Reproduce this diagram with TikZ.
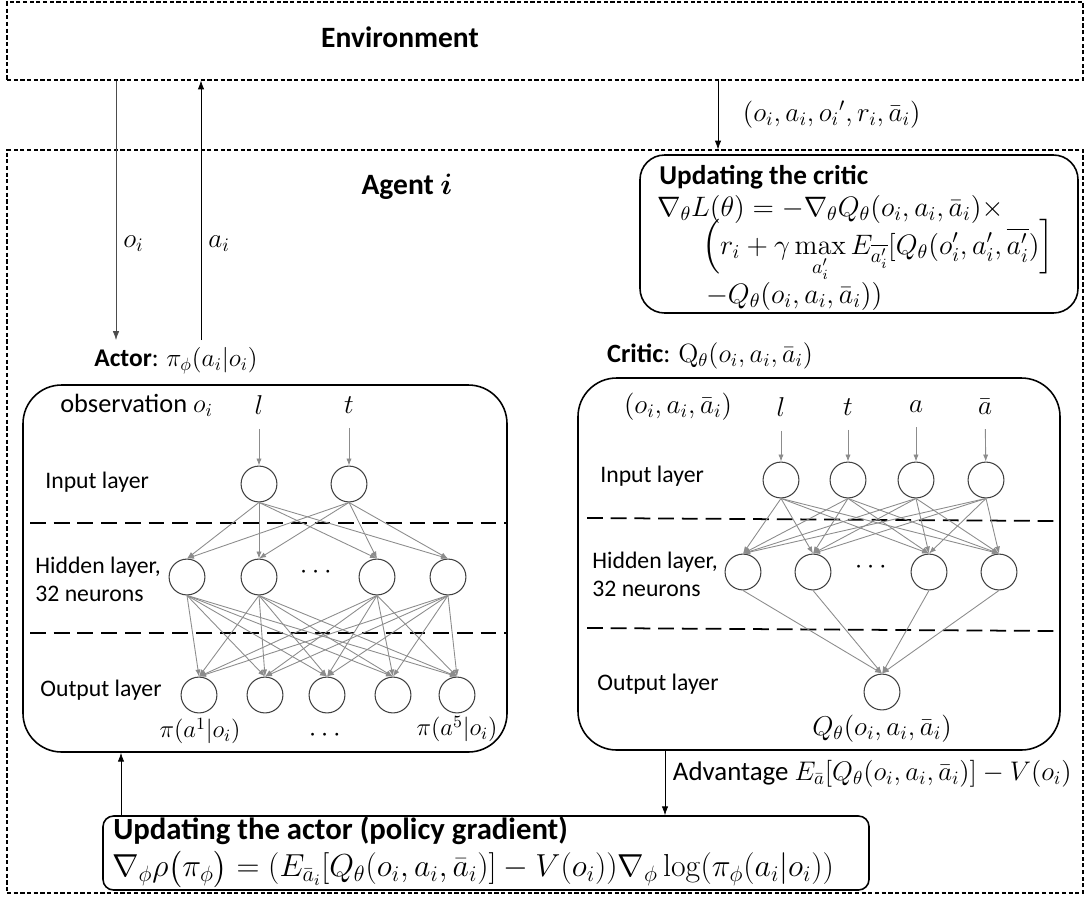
\RequirePackage{fix-cm}
\documentclass[tikz,border=0pt]{standalone}
\usepackage{amsmath}
\usepackage[no-math]{fontspec}
\setmainfont{Carlito}
\usetikzlibrary{arrows.meta,positioning,fit}

\begin{document}
\begin{tikzpicture}[
    x=0.02cm, y=-0.02cm,
    >={Latex[length=5pt,width=3.6pt]},
    frame/.style={draw, dash pattern=on 2.4pt off 1.4pt, line width=0.6pt, inner sep=0pt},
    panel/.style={draw, line width=0.9pt, rounded corners=22pt, inner sep=0pt},
    neuron/.style={draw=black!75, circle, line width=0.6pt, minimum size=20.4pt, inner sep=0pt},
    link/.style={-{Latex[length=4pt,width=3pt]}, draw=black!45, line width=0.5pt},
    divider/.style={dash pattern=on 9pt off 4.5pt, line width=1pt},
    lbl/.style={font=\fontsize{13.5}{16}\selectfont, anchor=west, align=left, inner sep=0pt},
    big/.style={font=\fontsize{16.8}{20}\selectfont\bfseries},
    mth/.style={font=\fontsize{15.5}{18}\selectfont, inner sep=1pt},
    eqn/.style={font=\fontsize{16}{19}\selectfont, inner sep=1pt, anchor=west},
]
\useasboundingbox (0,0) rectangle (1089,897);

% environment and agent frames
\coordinate (envnw) at (7,2);
\coordinate (envse) at (1083,80);
\node[frame, fit=(envnw)(envse)] (env) {};
\node[big] (envtxt) at (400,37) {Environment};
\coordinate (agnw) at (7,150);
\coordinate (agse) at (1083,893);
\node[frame, fit=(agnw)(agse)] (agent) {};
\node[big] (agtxt) at (407,187) {Agent $\boldsymbol{i}$};

% critic update
\coordinate (cunw) at (640,155);
\coordinate (cuse) at (1078,313);
\node[panel, rounded corners=14pt, fit=(cunw)(cuse)] (critupd) {};
\node[lbl, font=\fontsize{15.5}{18}\selectfont\bfseries] (cu1) at (659,177) {Updating the critic};
\node[eqn] (cu2) at (655,209) {$\nabla_\theta L(\theta)=-\nabla_\theta Q_\theta(o_i,a_i,\bar a_i)\times$};
\node[eqn] (cu3) at (700,251) {$\Bigl(r_i+\gamma\max\limits_{a_i'}E_{\overline{a_i'}}[Q_\theta(o_i',a_i',\overline{a_i'})\Bigr]$};
\node[eqn] (cu4) at (704,296) {$-Q_\theta(o_i,a_i,\bar a_i))$};

% arrows between environment and agent
\coordinate (obs) at (116,340);
\coordinate (act) at (201,340);
\coordinate (tup) at (718,0);
\draw[->, black!70] (obs |- env.south) -- node[mth, text=black, pos=0.63, right=3pt] {$o_i$} (obs);
\draw[->] (act) -- node[mth, pos=0.37, right=3pt] {$a_i$} (act |- env.south);
\draw[->] (tup |- env.south) -- node[mth, right=13pt] {$(o_i,a_i,{o_i}',r_i,\bar a_i)$} (tup |- agent.north);

% actor
\node[mth] (actlbl) at (176,361) {\fontsize{14.5}{17}\selectfont\textbf{Actor}: $\pi_\phi(a_i|o_i)$};
\coordinate (acnw) at (23,385);
\coordinate (acse) at (507,752);
\node[panel, fit=(acnw)(acse)] (actor) {};
\node[lbl, font=\fontsize{15}{18}\selectfont] (obstxt) at (60,405) {observation $o_i$};
\node[lbl] (ain) at (45,482) {Input layer};
\node[lbl] (ahid) at (35,579) {Hidden layer,\\32 neurons};
\node[lbl] (aout) at (40,690) {Output layer};
\draw[divider] (30,523) -- (507,523);
\draw[divider] (30,633) -- (507,633);

\node[mth] (al) at (259,405) {$l$};
\node[mth] (at) at (349,405) {$t$};
\node[neuron] (ai1) at (259,484) {};
\node[neuron] (ai2) at (349,484) {};
\draw[link, shorten <=7pt] (al) -- (ai1);
\draw[link, shorten <=7pt] (at) -- (ai2);

\node[neuron] (ah1) at (187,577) {};
\node[neuron] (ah2) at (259,577) {};
\node[mth] (adots) at (318,572) {$\cdots$};
\node[neuron] (ah3) at (377,577) {};
\node[neuron] (ah4) at (448,577) {};

\node[neuron] (ao1) at (199,695) {};
\node[neuron] (ao2) at (265,695) {};
\node[neuron] (ao3) at (327,695) {};
\node[neuron] (ao4) at (393,695) {};
\node[neuron] (ao5) at (457,695) {};
\node[mth, font=\fontsize{14}{16}\selectfont] (ap1) at (200,731) {$\pi(a^1|o_i)$};
\node[mth] (apdots) at (327,735) {$\cdots$};
\node[mth, font=\fontsize{14}{16}\selectfont] (ap5) at (457,729) {$\pi(a^5|o_i)$};

\foreach \s in {1,2}
  \foreach \t in {1,...,4}
    \draw[link] (ai\s.south) -- (ah\t.north);
\foreach \s in {1,...,4}
  \foreach \t in {1,...,5}
    \draw[link] (ah\s.south) -- (ao\t.north);

% critic
\node[mth] (critlbl) at (710,356) {\fontsize{15}{18}\selectfont\textbf{Critic}: $\mathrm{Q}_\theta(o_i,a_i,\bar a_i)$};
\coordinate (crnw) at (578,378);
\coordinate (crse) at (1060,750);
\node[panel, fit=(crnw)(crse)] (critic) {};
\node[mth] (crin) at (678,407) {$(o_i,a_i,\bar a_i)$};
\node[lbl] (cin) at (600,476) {Input layer};
\node[lbl] (chid) at (592,574) {Hidden layer,\\32 neurons};
\node[lbl] (cout) at (597,684) {Output layer};
\draw[divider] (587,518) -- (1058,521);
\draw[divider] (587,628) -- (1058,631);

\node[mth] (cl) at (781,407) {$l$};
\node[mth] (ct) at (848,407) {$t$};
\node[mth] (ca) at (916,407) {$a$};
\node[mth] (cab) at (985,407) {$\bar a$};
\node[neuron] (ci1) at (781,480) {};
\node[neuron] (ci2) at (848,480) {};
\node[neuron] (ci3) at (916,480) {};
\node[neuron] (ci4) at (986,480) {};
\draw[link, shorten <=7pt] (cl) -- (ci1);
\draw[link, shorten <=7pt] (ct) -- (ci2);
\draw[link, shorten <=7pt] (ca) -- (ci3);
\draw[link, shorten <=7pt] (cab) -- (ci4);

\node[neuron] (ch1) at (743,572) {};
\node[neuron] (ch2) at (813,572) {};
\node[mth] (cdots) at (873,567) {$\cdots$};
\node[neuron] (ch3) at (929,572) {};
\node[neuron] (ch4) at (999,572) {};
\node[neuron] (co) at (882,692) {};
\node[mth] (cq) at (882,729) {$Q_\theta(o_i,a_i,\bar a_i)$};

\foreach \s in {1,...,4}
  \foreach \t in {1,...,4}
    \draw[link] (ci\s.south) -- (ch\t.north);
\foreach \s in {1,...,4}
  \draw[link] (ch\s.south) -- (co.north);

% actor update
\coordinate (aunw) at (103,816);
\coordinate (ause) at (869,890);
\node[panel, rounded corners=6pt, fit=(aunw)(ause)] (actupd) {};
\node[lbl, font=\fontsize{17.5}{20}\selectfont\bfseries] (au1) at (113,831) {Updating the actor (policy gradient)};
\node[eqn, font=\fontsize{18.1}{21}\selectfont] (au2) at (110,869) {$\nabla_\phi\rho\bigl(\pi_\phi\bigr)=(E_{\bar a_i}[Q_\theta(o_i,a_i,\bar a_i)]-V(o_i))\nabla_\phi\log(\pi_\phi(a_i|o_i))$};

\coordinate (adv) at (665,0);
\coordinate (upd) at (121,0);
\draw[->] (adv |- critic.south) -- node[right=1pt, yshift=5pt, font=\fontsize{15.3}{18}\selectfont] {Advantage $E_{\bar a}[Q_\theta(o_i,a_i,\bar a_i)]-V(o_i)$} (adv |- actupd.north);
\draw[->] (upd |- actupd.north) -- (upd |- actor.south);

\end{tikzpicture}
\end{document}
